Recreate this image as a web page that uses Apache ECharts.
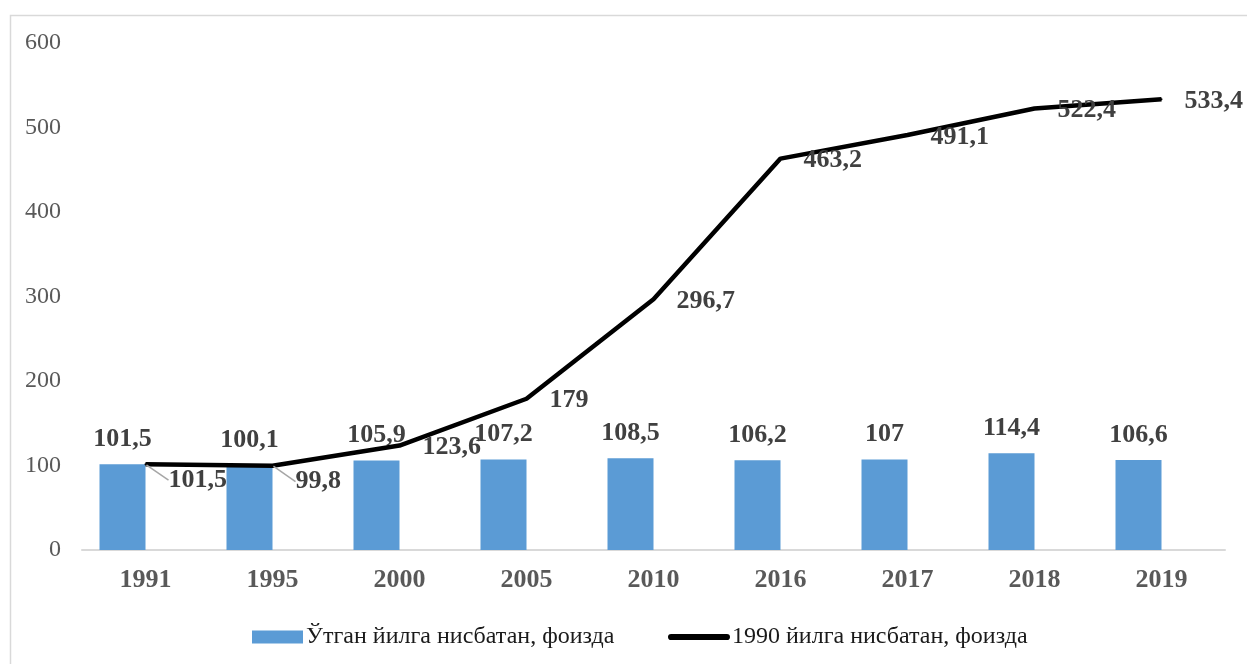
<!DOCTYPE html>
<html>
<head>
<meta charset="utf-8">
<script src="https://cdn.jsdelivr.net/npm/echarts@6/dist/echarts.min.js"></script>
<style>
html,body{margin:0;padding:0;background:#fff;}
#c{width:1247px;height:664px;}
</style>
</head>
<body>
<div id="c"></div>
<script>
const categories = ['1991','1995','2000','2005','2010','2016','2017','2018','2019'];
const prevYearPct = [101.5, 100.1, 105.9, 107.2, 108.5, 106.2, 107, 114.4, 106.6];
const base1990Pct = [101.5, 99.8, 123.6, 179, 296.7, 463.2, 491.1, 522.4, 533.4];
const yTicks = [0, 100, 200, 300, 400, 500, 600];
const barName = 'Ўтган йилга нисбатан, фоизда';
const lineName = '1990 йилга нисбатан, фоизда';
const leaderIdx = [0, 1];

const fmt = v => String(v).replace('.', ',');
const serif = '"Liberation Serif", "Times New Roman", serif';

const chart = echarts.init(document.getElementById('c'));
chart.setOption({
  animation: false,
  graphic: [{
    type: 'rect', left: 8, top: 13, silent: true,
    shape: {width: 1300, height: 700},
    style: {fill: 'none', stroke: '#d9d9d9', lineWidth: 1.5}
  }],
  grid: {left: 82, right: 22, top: 43, bottom: 114},
  legend: [{
    left: 247, top: 620, itemWidth: 51, itemHeight: 13, itemGap: 0,
    data: [{name: barName, icon: 'rect'}],
    textStyle: {fontFamily: serif, fontSize: 24, color: '#1a1a1a', padding: [0,0,0,-2]}
  }, {
    left: 663, top: 620, itemWidth: 62, itemHeight: 13, itemGap: 0,
    data: [{name: lineName, icon: 'path://M3,0 L57,0 A3,3 0 0 1 57,6 L3,6 A3,3 0 0 1 3,0 Z'}],
    itemStyle: {color: '#000'},
    textStyle: {fontFamily: serif, fontSize: 24, color: '#1a1a1a', padding: [0,0,0,-3]}
  }],
  xAxis: {
    type: 'category', data: categories,
    axisLine: {lineStyle: {color: '#d9d9d9', width: 2}},
    axisTick: {show: false},
    axisLabel: {fontFamily: serif, fontWeight: 'bold', fontSize: 26, color: '#595959', margin: 17}
  },
  yAxis: {
    type: 'value', min: yTicks[0], max: yTicks[yTicks.length-1], interval: 100,
    axisLine: {show: false}, axisTick: {show: false}, splitLine: {show: false},
    axisLabel: {fontFamily: serif, fontSize: 24, color: '#595959', margin: 21}
  },
  series: [{
    name: barName, type: 'bar', data: prevYearPct,
    barWidth: 46, barGap: '0%',
    itemStyle: {color: '#5b9bd5'},
    label: {show: true, position: 'top', distance: 12, formatter: p => fmt(p.value),
      fontFamily: serif, fontWeight: 'bold', fontSize: 26, color: '#404040'},
    z: 2
  }, {
    name: '_spacer', type: 'bar', data: categories.map(() => '-'),
    barWidth: 46, barGap: '0%', silent: true
  }, {
    name: lineName, type: 'line', data: base1990Pct.map((v, i) => leaderIdx.includes(i)
      ? {value: v, labelLine: {show: true}} : v),
    symbol: 'circle', symbolSize: 2, showSymbol: true,
    itemStyle: {color: '#000'},
    lineStyle: {color: '#000', width: 4.5},
    label: {show: true, position: 'right', distance: 22, formatter: p => fmt(p.value),
      fontFamily: serif, fontWeight: 'bold', fontSize: 26, color: '#404040'},
    labelLayout: p => leaderIdx.includes(p.dataIndex) ? {dy: 16} : {dy: 2},
    labelLine: {show: false, lineStyle: {color: '#a6a6a6', width: 1.5}},
    z: 3
  }]
});
</script>
</body>
</html>
